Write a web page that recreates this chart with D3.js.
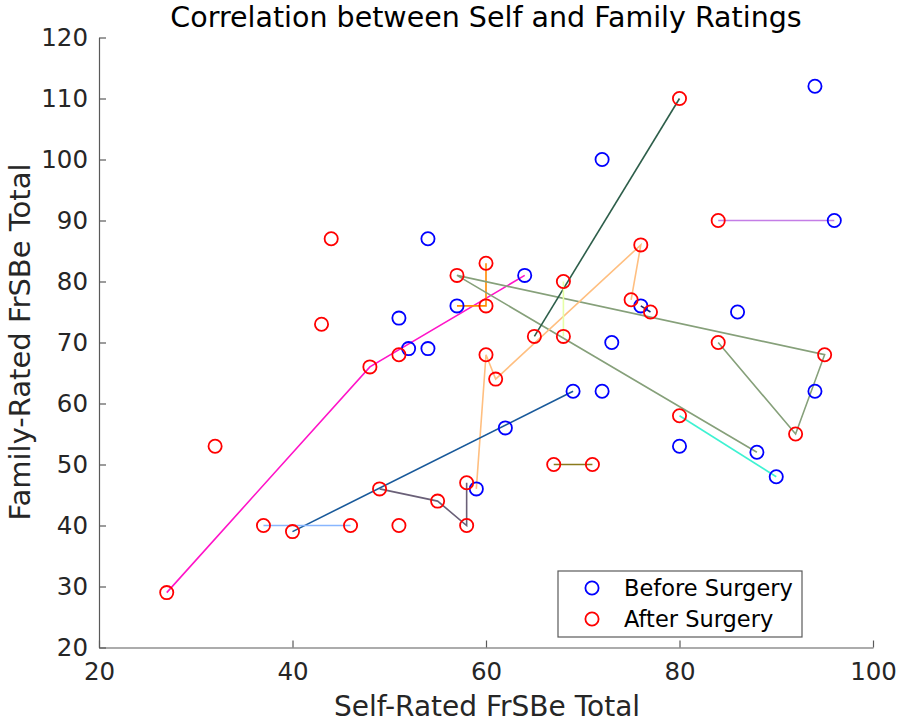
<!DOCTYPE html>
<html lang="en">
<head>
    <meta charset="UTF-8">
    <title>Correlation between Self and Family Ratings</title>
    <style>
        body { margin: 0; background: #fff; }
        svg { display: block; font-family: "DejaVu Sans", sans-serif; }
        .axis path, .axis line { stroke: #5a5a5a; stroke-width: 1.2px; }
        .axis text { fill: #262626; font-size: 24.5px; font-family: "DejaVu Sans", sans-serif; }
        .marker { fill: none; stroke-width: 1.8px; }
        .link { fill: none; stroke-width: 1.6px; }
    </style>
    <script src="https://d3js.org/d3.v7.min.js"></script>
</head>
<body>
<script>
    // Before surgery: self rating vs family rating
    const beforeSelf   = [94, 72, 96, 54, 64, 57, 76, 51, 86, 52, 54, 73, 69, 72, 94, 62, 80, 88, 90, 59];
    const beforeFamily = [112, 100, 90, 87, 81, 76, 76, 74, 75, 69, 69, 70, 62, 62, 62, 56, 53, 52, 48, 46];

    // After surgery
    const afterSelf   = [80, 84, 44, 76, 60, 57, 68, 75, 60, 77, 43, 65, 68, 84, 51, 60, 95, 48, 61, 80, 92, 32, 67, 71, 58, 49, 55, 37, 46, 51, 58, 40, 27];
    const afterFamily = [110, 90, 87, 86, 83, 81, 80, 77, 76, 75, 73, 71, 71, 70, 68, 68, 68, 66, 64, 58, 55, 53, 50, 50, 47, 46, 44, 40, 40, 40, 40, 39, 29];

    // patient tracks, [self, family] pairs
    const tracks = [
        [[64, 81], [48, 66], [27, 29]],
        [[57, 76], [60, 76], [60, 83]],
        [[88, 52], [57, 81], [95, 68], [92, 55], [84, 70]],
        [[65, 71], [80, 110]],
        [[59, 46], [60, 68], [61, 64], [76, 86], [75, 77]],
        [[68, 80], [68, 71]],
        [[69, 62], [40, 39]],
        [[37, 40], [46, 40]],
        [[58, 47], [58, 40], [55, 44], [49, 46]],
        [[96, 90], [84, 90]],
        [[90, 48], [80, 58]],
        [[67, 50], [71, 50]],
        [[76, 76], [77, 75]]
    ];
    const trackColors = ["#ff14c8", "#ff8c00", "#86a07a", "#2d5e4a", "#ffbf80", "#e6ffa6",
        "#18599a", "#88b6ff", "#6a6078", "#c47ee6", "#3ef2d2", "#8a7a1c", "#1c2a6e"];

    const xTicks = [20, 40, 60, 80, 100];
    const yTicks = [20, 30, 40, 50, 60, 70, 80, 90, 100, 110, 120];

    const width = 900, height = 725;
    const svg = d3.select("body").append("svg")
        .attr("width", width).attr("height", height);

    const x = d3.scaleLinear().domain([20, 100]).range([99, 873]);
    const y = d3.scaleLinear().domain([20, 120]).range([647.5, 37.5]);

    svg.append("g").attr("class", "axis")
        .attr("transform", `translate(0,${y(20)})`)
        .call(d3.axisBottom(x).tickValues(xTicks).tickSizeInner(-7).tickSizeOuter(0).tickPadding(15));

    svg.append("g").attr("class", "axis")
        .attr("transform", `translate(${x(20)},0)`)
        .call(d3.axisLeft(y).tickValues(yTicks).tickSizeInner(-7).tickSizeOuter(0).tickPadding(11));

    const line = d3.line().x(d => x(d[0])).y(d => y(d[1]));
    svg.append("g").selectAll("path").data(tracks).join("path")
        .attr("class", "link")
        .attr("d", line)
        .attr("stroke", (d, i) => trackColors[i]);

    svg.append("g").selectAll("circle").data(beforeSelf).join("circle")
        .attr("class", "marker")
        .attr("cx", d => x(d))
        .attr("cy", (d, i) => y(beforeFamily[i]))
        .attr("r", 6.6)
        .attr("stroke", "#0000ff");

    svg.append("g").selectAll("circle").data(afterSelf).join("circle")
        .attr("class", "marker")
        .attr("cx", d => x(d))
        .attr("cy", (d, i) => y(afterFamily[i]))
        .attr("r", 6.6)
        .attr("stroke", "#ff0000");

    // title and labels
    svg.append("text")
        .attr("x", 486).attr("y", 27)
        .attr("text-anchor", "middle")
        .style("font-size", "28.5px").style("fill", "#000")
        .text("Correlation between Self and Family Ratings");

    svg.append("text")
        .attr("x", 487).attr("y", 716)
        .attr("text-anchor", "middle")
        .style("font-size", "28px").style("fill", "#262626")
        .text("Self-Rated FrSBe Total");

    svg.append("text")
        .attr("transform", "translate(30,342) rotate(-90)")
        .attr("text-anchor", "middle")
        .style("font-size", "29px").style("fill", "#262626")
        .text("Family-Rated FrSBe Total");

    // legend
    const legend = svg.append("g");
    legend.append("rect")
        .attr("x", 558).attr("y", 571).attr("width", 244).attr("height", 66)
        .attr("fill", "#fff").attr("stroke", "#5a5a5a").attr("stroke-width", 1.2);
    const entries = [["Before Surgery", "#0000ff"], ["After Surgery", "#ff0000"]];
    entries.forEach(([label, color], i) => {
        legend.append("circle")
            .attr("class", "marker")
            .attr("cx", 592).attr("cy", 588 + i * 31)
            .attr("r", 6.6).attr("stroke", color);
        legend.append("text")
            .attr("x", 624).attr("y", 596 + i * 31)
            .style("font-size", "22.5px").style("fill", "#000")
            .text(label);
    });
</script>
</body>
</html>
